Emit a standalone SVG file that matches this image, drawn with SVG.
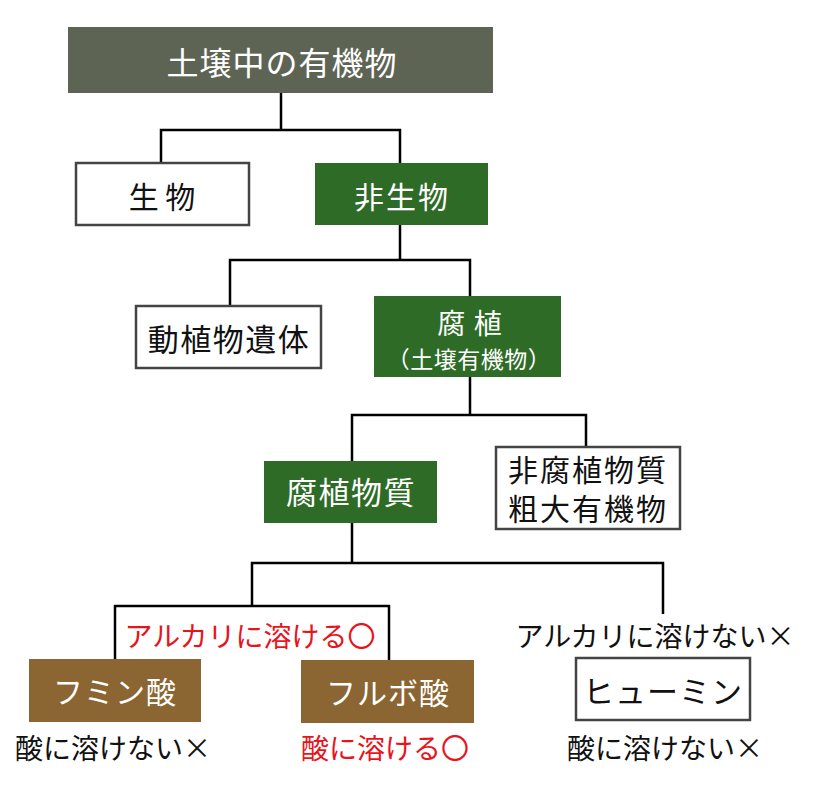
<svg xmlns="http://www.w3.org/2000/svg" width="818" height="786" viewBox="0 0 818 786">
<style>
text{font-family:"Noto Sans CJK JP","Noto Sans",sans-serif;text-anchor:middle;dominant-baseline:central}
.w{fill:#fff}
.k{fill:#111}
.r{fill:#e8141c}
.gray{fill:#5e6454}
.green{fill:#2e6b27}
.brown{fill:#8b6532}
.plain{fill:#fff;stroke:#444;stroke-width:2.5}
.conn{fill:none;stroke:#000;stroke-width:2.5}
</style>
<rect width="818" height="786" fill="#fff"/>
<g id="connectors">
<path class="conn" d="M281 93V130M161 163V130H400V163"/>
<path class="conn" d="M400 225V260M230 306V260H470V296"/>
<path class="conn" d="M470 377V415M352 461V415H586V447"/>
<path class="conn" d="M352 523V563M252 606V563H663V614"/>
<path class="conn" d="M115 659V606H389V660"/>
</g>
<g id="n-root">
<rect class="gray" x="68" y="27" width="425" height="66"/>
<text class="w" x="282" y="61" font-size="32" letter-spacing="1">土壌中の有機物</text>
</g>
<g id="n-seibutsu">
<rect class="plain" x="76" y="163" width="173" height="62"/>
<text class="k" x="162" y="195" font-size="30">生 物</text>
</g>
<g id="n-hiseibutsu">
<rect class="green" x="315" y="163" width="173" height="62"/>
<text class="w" x="402" y="195" font-size="30" letter-spacing="2">非生物</text>
</g>
<g id="n-ishoku">
<rect class="plain" x="136" y="306" width="185" height="62"/>
<text class="k" x="229" y="337" font-size="31" letter-spacing="1.5">動植物遺体</text>
</g>
<g id="n-fushoku">
<rect class="green" x="374" y="296" width="187" height="81"/>
<text class="w" x="470" y="322" font-size="28" letter-spacing="1">腐 植</text>
<text class="w" x="469" y="358" font-size="23" letter-spacing="0.5">（土壌有機物）</text>
</g>
<g id="n-fushokubusshitsu">
<rect class="green" x="264" y="461" width="173" height="62"/>
<text class="w" x="351" y="490" font-size="31" letter-spacing="1.5">腐植物質</text>
</g>
<g id="n-hifushoku">
<rect class="plain" x="496" y="447" width="184" height="82"/>
<text class="k" font-size="30" letter-spacing="2"><tspan x="588" y="468">非腐植物質</tspan><tspan x="588" y="507">粗大有機物</tspan></text>
</g>
<g id="n-humin-acid">
<rect class="brown" x="29" y="659" width="172" height="63"/>
<text class="w" x="115" y="690" font-size="30" letter-spacing="1">フミン酸</text>
</g>
<g id="n-fulvic">
<rect class="brown" x="301" y="660" width="173" height="63"/>
<text class="w" x="388" y="691" font-size="30" letter-spacing="1">フルボ酸</text>
</g>
<g id="n-humin">
<rect class="plain" x="576" y="658" width="174" height="62"/>
<text class="k" x="663" y="689" font-size="31" letter-spacing="1">ヒューミン</text>
</g>
<g id="labels">
<text class="r" x="250" y="635" font-size="28">アルカリに溶ける〇</text>
<text class="k" x="655" y="635" font-size="28">アルカリに溶けない×</text>
<text class="k" x="113" y="747" font-size="28">酸に溶けない×</text>
<text class="r" x="385" y="747" font-size="28">酸に溶ける〇</text>
<text class="k" x="665" y="747" font-size="28">酸に溶けない×</text>
</g>
</svg>
